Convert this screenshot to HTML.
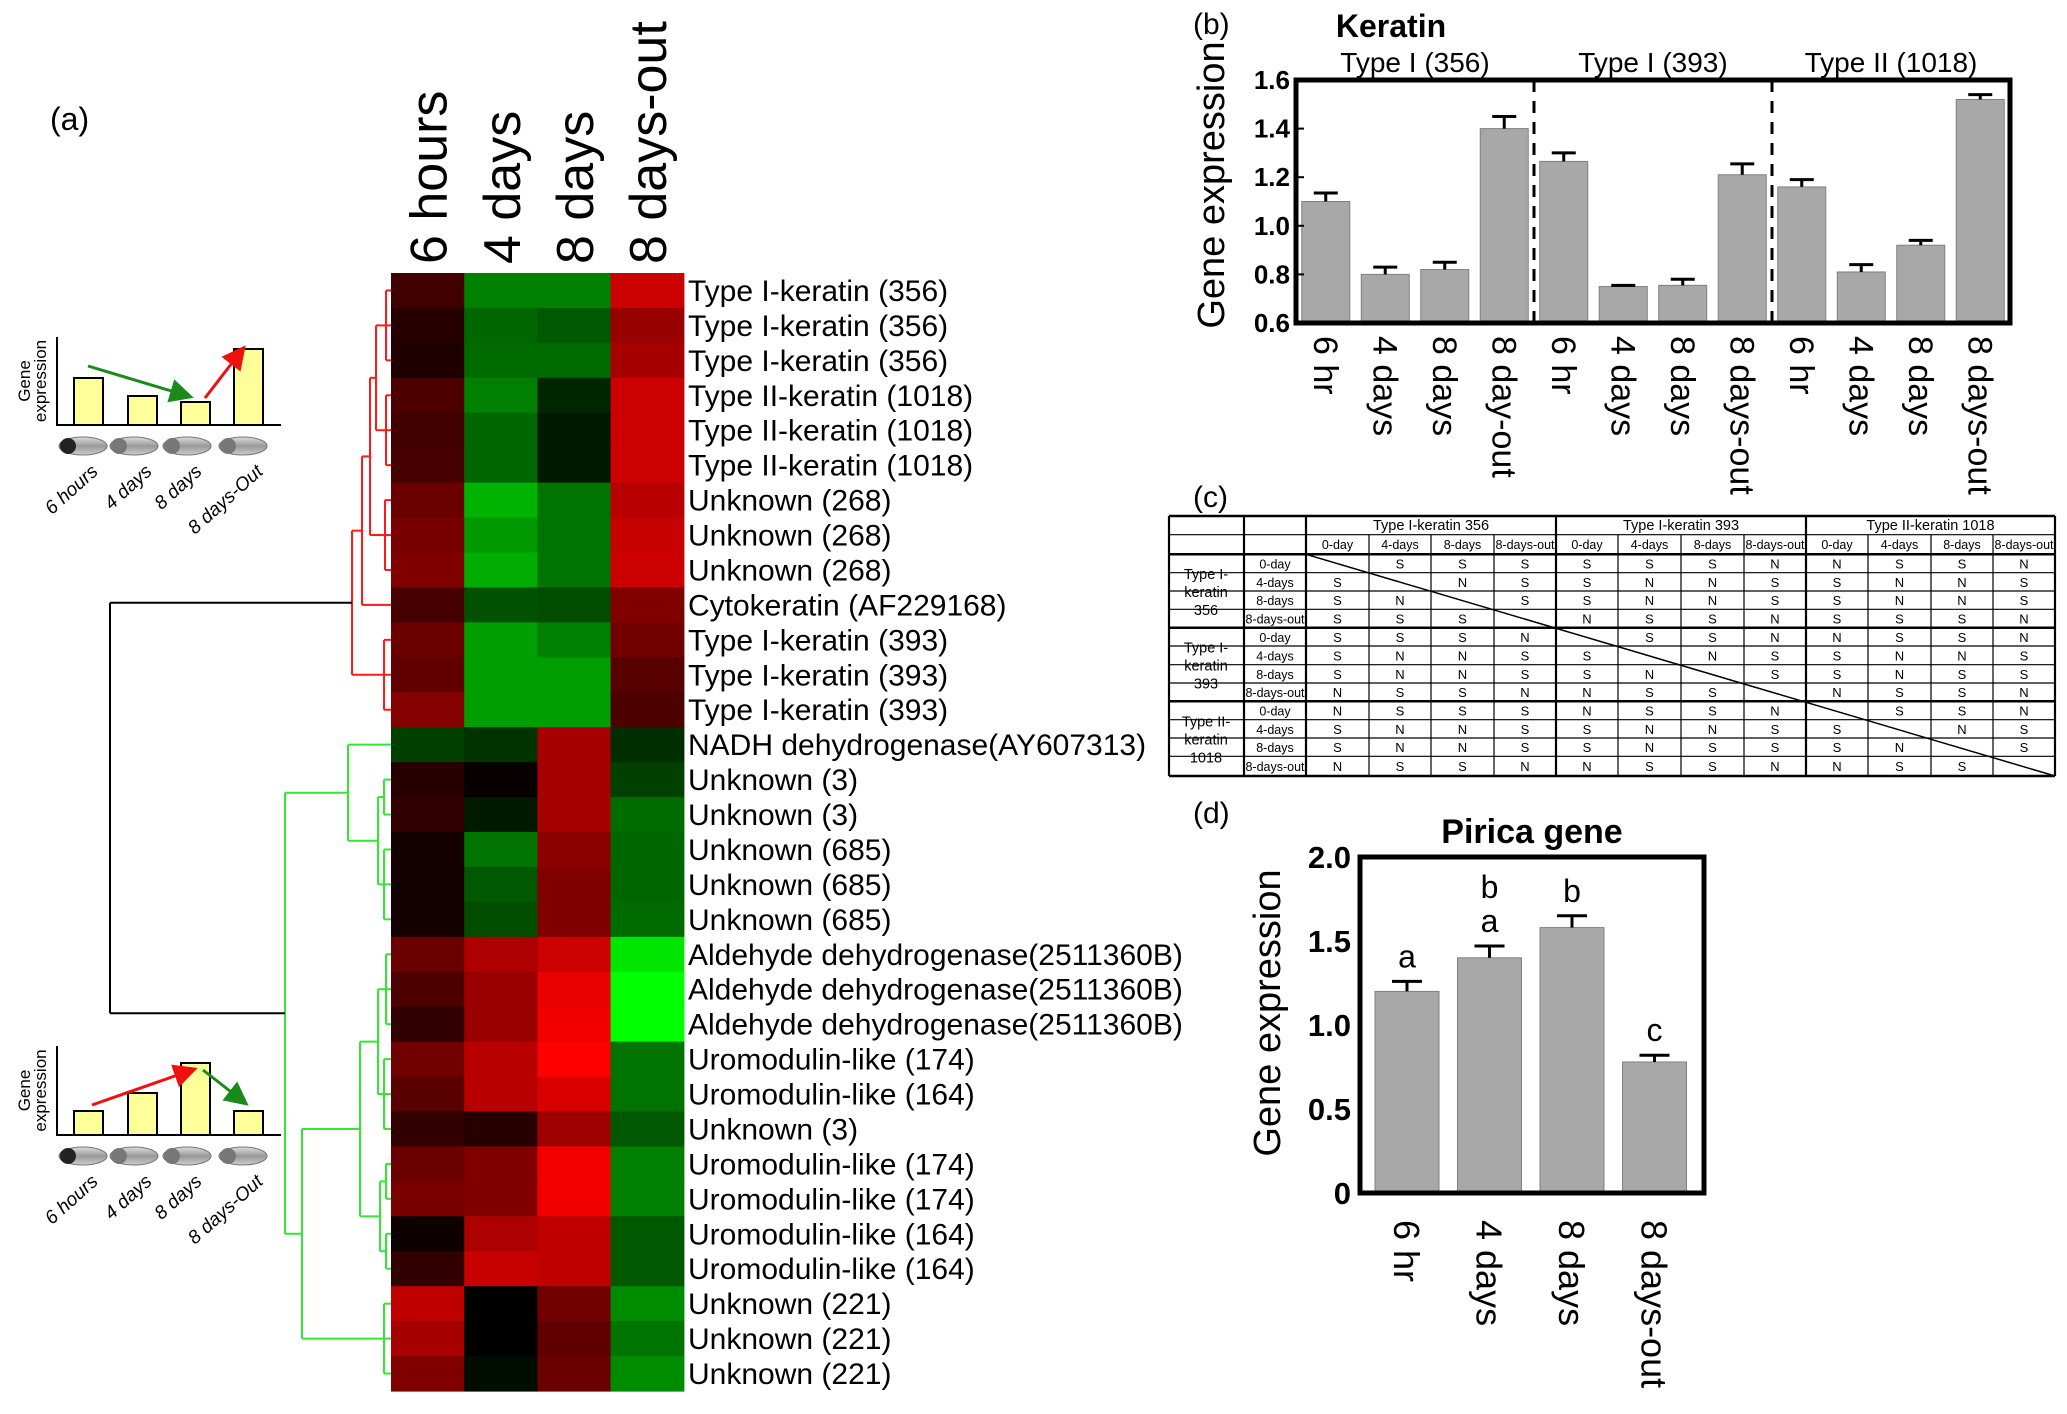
<!DOCTYPE html>
<html><head><meta charset="utf-8"><style>
html,body{margin:0;padding:0;background:#fff}
svg{display:block}
text{font-family:"Liberation Sans",Arial,sans-serif;fill:#000}
.nar{font-family:"Liberation Sans Narrow","Liberation Sans",sans-serif}
</style></head><body>
<svg id="fig" width="2067" height="1414" viewBox="0 0 2067 1414" xmlns="http://www.w3.org/2000/svg">
<defs>
<linearGradient id="tad" x1="0" y1="0" x2="0" y2="1"><stop offset="0" stop-color="#ddd"/><stop offset="0.5" stop-color="#999"/><stop offset="1" stop-color="#ccc"/></linearGradient>
<marker id="ag" markerWidth="8" markerHeight="8" refX="6" refY="4" orient="auto" markerUnits="strokeWidth"><path d="M0,0 L8,4 L0,8z" fill="#1a8a1a"/></marker>
<marker id="ar" markerWidth="8" markerHeight="8" refX="6" refY="4" orient="auto" markerUnits="strokeWidth"><path d="M0,0 L8,4 L0,8z" fill="#f01010"/></marker>
</defs>
<text x="50" y="130" font-size="32">(a)</text>
<text x="1193" y="34" font-size="30">(b)</text>
<text x="1193" y="507" font-size="30">(c)</text>
<text x="1193" y="823" font-size="30">(d)</text>
<g id="heat"></g>
<g id="dendro"></g>
<g id="insets"></g>
<g id="pb"></g>
<g id="pc"></g>
<g id="pd"></g>
</svg>
<script>
// ---------- Heatmap data ----------
const heatCols = ["6 hours","4 days","8 days","8 days-out"];
const heatRows = ["Type I-keratin (356)","Type I-keratin (356)","Type I-keratin (356)","Type II-keratin (1018)","Type II-keratin (1018)","Type II-keratin (1018)","Unknown (268)","Unknown (268)","Unknown (268)","Cytokeratin (AF229168)","Type I-keratin (393)","Type I-keratin (393)","Type I-keratin (393)","NADH dehydrogenase(AY607313)","Unknown (3)","Unknown (3)","Unknown (685)","Unknown (685)","Unknown (685)","Aldehyde dehydrogenase(2511360B)","Aldehyde dehydrogenase(2511360B)","Aldehyde dehydrogenase(2511360B)","Uromodulin-like (174)","Uromodulin-like (164)","Unknown (3)","Uromodulin-like (174)","Uromodulin-like (174)","Uromodulin-like (164)","Uromodulin-like (164)","Unknown (221)","Unknown (221)","Unknown (221)"];
const heatVals = [
[0.25,-0.5,-0.5,0.8],[0.15,-0.4,-0.35,0.6],[0.12,-0.42,-0.42,0.65],
[0.3,-0.5,-0.15,0.8],[0.25,-0.4,-0.1,0.8],[0.28,-0.4,-0.1,0.8],
[0.42,-0.7,-0.45,0.72],[0.47,-0.6,-0.45,0.78],[0.5,-0.68,-0.45,0.8],
[0.28,-0.32,-0.3,0.5],
[0.42,-0.62,-0.5,0.45],[0.38,-0.62,-0.62,0.35],[0.52,-0.62,-0.62,0.3],
[-0.25,-0.2,0.65,-0.18],[0.15,0.03,0.65,-0.25],[0.2,-0.1,0.65,-0.42],
[0.08,-0.45,0.55,-0.4],[0.08,-0.35,0.5,-0.4],[0.08,-0.3,0.5,-0.42],
[0.42,0.68,0.8,-0.9],[0.3,0.6,0.92,-1],[0.2,0.6,0.95,-1],
[0.45,0.72,1.0,-0.45],[0.35,0.72,0.85,-0.45],[0.2,0.15,0.62,-0.35],
[0.42,0.5,0.95,-0.5],[0.48,0.5,0.95,-0.5],[0.05,0.68,0.75,-0.35],[0.2,0.78,0.75,-0.35],
[0.75,0,0.45,-0.55],[0.65,0,0.38,-0.45],[0.5,-0.05,0.42,-0.55]];

// ---------- Panel b data ----------
const kerCats = ["6 hr","4 days","8 days","8 day-out","6 hr","4 days","8 days","8 days-out","6 hr","4 days","8 days","8 days-out"];
const kerVals = [1.10,0.80,0.82,1.40,1.265,0.75,0.755,1.21,1.16,0.81,0.92,1.52];
const kerErr = [0.035,0.03,0.03,0.05,0.035,0.005,0.025,0.045,0.03,0.03,0.02,0.02];
const kerGroups = ["Type I (356)","Type I (393)","Type II (1018)"];
const kerTicks = [0.6,0.8,1.0,1.2,1.4,1.6];
const kerTickLabels = ["0.6","0.8","1.0","1.2","1.4","1.6"];

// ---------- Panel d data ----------
const pirCats = ["6 hr","4 days","8 days","8 days-out"];
const pirVals = [1.2,1.4,1.58,0.78];
const pirErr = [0.06,0.07,0.07,0.04];
const pirLetters = [["a"],["a","b"],["b"],["c"]];
const pirTicks = [0,0.5,1.0,1.5,2.0];
const pirTickLabels = ["0","0.5","1.0","1.5","2.0"];

// ---------- Panel c data ----------
const tblGroups = ["Type I-keratin 356","Type I-keratin 393","Type II-keratin 1018"];
const tblRowGroups = [["Type I-","keratin","356"],["Type I-","keratin","393"],["Type II-","keratin","1018"]];
const tblSub = ["0-day","4-days","8-days","8-days-out"];
const tblCells = [
"-SSSSSSNNSSN","S-NSSNNSSNNS","SN-SSNNSSNNS","SSS-NSSNSSSN",
"SSSN-SSNNSSN","SNNSS-NSSNNS","SNNSSN-SSNSS","NSSNNSS-NSSN",
"NSSSNSSN-SSN","SNNSSNNSS-NS","SNNSSNSSSN-S","NSSNNSSNNSS-"];

const NS="http://www.w3.org/2000/svg";
function mk(tag,attrs,parent,txt){const e=document.createElementNS(NS,tag);for(const k in attrs)e.setAttribute(k,attrs[k]);if(txt!==undefined)e.textContent=txt;parent.appendChild(e);return e;}

// ---------- Heatmap ----------
const heat=document.getElementById('heat');
const hx0=391,hcw=73.2,hy0=273,hrh=(1391-273)/32;
function hcol(v){return v>=0?`rgb(${Math.round(v*255)},0,0)`:`rgb(0,${Math.round(-v*255)},0)`;}
heatVals.forEach((row,i)=>{row.forEach((v,j)=>{
  const r=mk('rect',{x:hx0+j*hcw,y:hy0+i*hrh,width:hcw+0.6,height:hrh+0.6,fill:hcol(v)},heat);
  
  
});
  const t=mk('text',{x:688,y:hy0+(i+0.5)*hrh+10.5,'font-size':30},heat,heatRows[i]);
  
  
});
heatCols.forEach((c,j)=>{
  const cx=hx0+(j+0.5)*hcw+19;
  const t=mk('text',{x:cx,y:264,'font-size':52,transform:`rotate(-90 ${cx} 264)`},heat,c);
  
  
});

// ---------- Dendrogram ----------
const dg=document.getElementById('dendro');
const rc=i=>hy0+(i+0.5)*hrh;
function N(x,kids){return {x,kids};}
function draw(node,color){
  if(typeof node==='number')return {y:rc(node),x:hx0};
  const ch=node.kids.map(k=>draw(k,color));
  const ys=ch.map(c=>c.y);
  const y=(Math.min(...ys)+Math.max(...ys))/2;
  mk('line',{x1:node.x,x2:node.x,y1:Math.min(...ys),y2:Math.max(...ys),stroke:color,'stroke-width':2},dg);
  ch.forEach(c=>mk('line',{x1:node.x,x2:c.x,y1:c.y,y2:c.y,stroke:color,'stroke-width':2},dg));
  return {y,x:node.x};
}
const redTree=N(352,[N(362,[N(370,[N(376,[N(386,[0,1,2]),N(386,[3,4,5])]),N(385,[6,7,8])]),9]),N(384,[10,11,12])]);
const greenTree=N(285,[N(348,[13,N(378,[N(384,[14,15]),N(384,[16,17,18])])]),N(302,[N(360,[N(378,[N(386,[19,20,21]),N(384,[22,23,24])]),N(380,[N(386,[25,26]),N(386,[27,28])])]),N(384,[29,30,31])])]);
const rr=draw(redTree,'#ff1a1a'), gr=draw(greenTree,'#33e633');
mk('line',{x1:110,x2:110,y1:rr.y,y2:gr.y,stroke:'#000','stroke-width':2},dg);
mk('line',{x1:110,x2:rr.x,y1:rr.y,y2:rr.y,stroke:'#000','stroke-width':2},dg);
mk('line',{x1:110,x2:gr.x,y1:gr.y,y2:gr.y,stroke:'#000','stroke-width':2},dg);

// ---------- Insets ----------
const ins=document.getElementById('insets');
const insetBars=[[378,396,402,349],[1111,1093,1063,1111]];
const insetBase=[425,1135], insetTop=[337,1046];
const barX=[74,128,181,234], tadX=[83,134,187,243];
const insetLbl=["6 hours","4 days","8 days","8 days-Out"], lblX=[99,153,203,264];
[0,1].forEach(k=>{
  const b=insetBase[k];
  insetBars[k].forEach((top,i)=>{const r=mk('rect',{x:barX[i],y:top,width:29,height:b-top,fill:'#ffff99',stroke:'#000','stroke-width':2},ins);});
  mk('polyline',{points:`57,${insetTop[k]} 57,${b} 281,${b}`,fill:'none',stroke:'#000','stroke-width':2},ins);
  mk('text',{x:30,y:(insetTop[k]+b)/2,'font-size':17,'text-anchor':'middle',transform:`rotate(-90 30 ${(insetTop[k]+b)/2})`},ins,'Gene');
  mk('text',{x:46,y:(insetTop[k]+b)/2,'font-size':17,'text-anchor':'middle',transform:`rotate(-90 46 ${(insetTop[k]+b)/2})`},ins,'expression');
  tadX.forEach((x,i)=>{const ty=b+21;mk('ellipse',{cx:x,cy:ty,rx:24,ry:9,fill:'url(#tad)',stroke:'#777','stroke-width':1},ins);mk('ellipse',{cx:x-15,cy:ty,rx:8,ry:8,fill:i==0?'#222':'#777'},ins);});
  insetLbl.forEach((s,i)=>{const y=b+48;mk('text',{x:lblX[i],y:y,'font-size':19,'font-style':'italic','text-anchor':'end',transform:`rotate(-42 ${lblX[i]} ${y})`},ins,s);});
});
mk('line',{x1:88,y1:366,x2:188,y2:396,stroke:'#1a8a1a','stroke-width':3,'marker-end':'url(#ag)'},ins);
mk('line',{x1:205,y1:398,x2:242,y2:350,stroke:'#f01010','stroke-width':3,'marker-end':'url(#ar)'},ins);
mk('line',{x1:92,y1:1105,x2:192,y2:1070,stroke:'#f01010','stroke-width':3,'marker-end':'url(#ar)'},ins);
mk('line',{x1:203,y1:1070,x2:244,y2:1102,stroke:'#1a8a1a','stroke-width':3,'marker-end':'url(#ag)'},ins);

// ---------- Panel b ----------
const pb=document.getElementById('pb');
const bL=1296,bR=2010,bT=80,bB=323;
const bY=v=>bB-(v-0.6)/(1.6-0.6)*(bB-bT);
const bStep=(bR-bL)/kerVals.length, bW=48;
mk('text',{x:1391,y:37,'font-size':32,'font-weight':'bold','text-anchor':'middle',class:'nar'},pb,'Keratin');
kerGroups.forEach((g,i)=>{const t=mk('text',{x:bL+bStep*(4*i+2),y:72,'font-size':28,'text-anchor':'middle'},pb,g);});
kerVals.forEach((v,i)=>{
  const cx=bL+bStep*(i+0.5);
  const r=mk('rect',{x:cx-bW/2,y:bY(v),width:bW,height:bB-bY(v),fill:'#a8a8a8',stroke:'#808080','stroke-width':1},pb);
  
  
  const ey=bY(v+kerErr[i]);
  mk('path',{d:`M${cx},${bY(v)}V${ey}M${cx-12},${ey}H${cx+12}`,stroke:'#000','stroke-width':3,fill:'none'},pb);
  const lx=cx-12;
  const t=mk('text',{x:lx,y:336,'font-size':34,transform:`rotate(90 ${lx} 336)`},pb,kerCats[i]);
  
  
});
[4,8].forEach(k=>mk('line',{x1:bL+bStep*k,x2:bL+bStep*k,y1:bT,y2:bB,stroke:'#000','stroke-width':3,'stroke-dasharray':'12,9'},pb));
mk('rect',{x:bL,y:bT,width:bR-bL,height:bB-bT,fill:'none',stroke:'#000','stroke-width':5},pb);
kerTicks.forEach((v,i)=>{mk('line',{x1:bL,x2:bL+8,y1:bY(v),y2:bY(v),stroke:'#000','stroke-width':2},pb);
  const t=mk('text',{x:1290,y:bY(v)+9,'font-size':26,'font-weight':'bold','text-anchor':'end'},pb,kerTickLabels[i]);});
mk('text',{x:1224,y:185,'font-size':38,'text-anchor':'middle',transform:'rotate(-90 1224 185)'},pb,'Gene expression');

// ---------- Panel c ----------
const pc=document.getElementById('pc');
const cX=[1169,1244,1306,1369,1431,1494,1556,1618,1681,1744,1806,1868,1931,1993,2055];
const cY=[516,534.7,554.3,572.7,591,609.3,627.7,646,664.7,683,701.3,719.7,738,756.3,776];
cY.forEach((y,i)=>mk('line',{x1:1169,x2:2055,y1:y,y2:y,stroke:'#000','stroke-width':(i==0||i==14||i==2||i==6||i==10)?2.5:1.2},pc));
cX.forEach((x,i)=>mk('line',{x1:x,x2:x,y1:(i>=3&&(i-2)%4!==0)?534.7:516,y2:776,stroke:'#000','stroke-width':(i==0||i==14||i==1||i==2||i==6||i==10)?2.2:1.2},pc));
tblGroups.forEach((g,k)=>mk('text',{x:(cX[2+4*k]+cX[6+4*k])/2,y:530,'font-size':14.5,'text-anchor':'middle',class:'nar'},pc,g));
for(let j=0;j<12;j++)mk('text',{x:(cX[2+j]+cX[3+j])/2,y:549,'font-size':12.5,'text-anchor':'middle',class:'nar'},pc,tblSub[j%4]);
tblRowGroups.forEach((ls,k)=>ls.forEach((s,m)=>mk('text',{x:1206,y:(cY[2+4*k]+cY[6+4*k])/2-12+m*18,'font-size':14.5,'text-anchor':'middle',class:'nar'},pc,s)));
tblCells.forEach((row,i)=>{
  mk('text',{x:1275,y:(cY[2+i]+cY[3+i])/2+5,'font-size':12.5,'text-anchor':'middle',class:'nar'},pc,tblSub[i%4]);
  [...row].forEach((c,j)=>{if(c==='-')return;
    const t=mk('text',{x:(cX[2+j]+cX[3+j])/2,y:(cY[2+i]+cY[3+i])/2+5,'font-size':13,'text-anchor':'middle',class:'nar'},pc,c);
    
    });
});
mk('line',{x1:1306,y1:554.3,x2:2055,y2:776,stroke:'#000','stroke-width':1.5},pc);

// ---------- Panel d ----------
const pd=document.getElementById('pd');
const dL=1360,dR=1704,dT=857,dB=1193;
const dY=v=>dB-v/2.0*(dB-dT);
const dStep=82.5,dW=64,dX0=1407;
mk('text',{x:1532,y:843,'font-size':34,'font-weight':'bold','text-anchor':'middle',class:'nar'},pd,'Pirica gene');
pirVals.forEach((v,i)=>{
  const cx=dX0+i*dStep;
  const r=mk('rect',{x:cx-dW/2,y:dY(v),width:dW,height:dB-dY(v),fill:'#a8a8a8',stroke:'#808080','stroke-width':1},pd);
  
  
  const ey=dY(v+pirErr[i]);
  mk('path',{d:`M${cx},${dY(v)}V${ey}M${cx-15},${ey}H${cx+15}`,stroke:'#000','stroke-width':3,fill:'none'},pd);
  pirLetters[i].forEach((L,m)=>mk('text',{x:cx,y:ey-14-m*34,'font-size':32,'text-anchor':'middle'},pd,L));
  const lx=cx-13;
  const t=mk('text',{x:lx,y:1220,'font-size':36,transform:`rotate(90 ${lx} 1220)`},pd,pirCats[i]);
  
  
});
mk('rect',{x:dL,y:dT,width:dR-dL,height:dB-dT,fill:'none',stroke:'#000','stroke-width':5},pd);
pirTicks.forEach((v,i)=>{const t=mk('text',{x:1351,y:dY(v)+11,'font-size':31,'font-weight':'bold','text-anchor':'end'},pd,pirTickLabels[i]);});
mk('text',{x:1280,y:1013,'font-size':38,'text-anchor':'middle',transform:'rotate(-90 1280 1013)'},pd,'Gene expression');
</script>
</body></html>
